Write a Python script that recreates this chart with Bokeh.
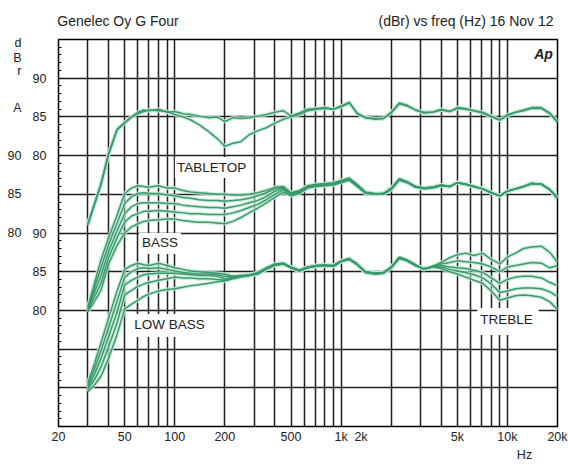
from bokeh.plotting import figure
from bokeh.models import FixedTicker, LinearAxis, LogAxis, Label, Range1d
from bokeh.embed import file_html
from bokeh.resources import INLINE

# ---------------- data ----------------
freq = [30, 33, 36, 40, 45, 50, 55, 60, 65, 70, 80, 90, 100, 112, 125, 140, 160, 180, 200,
        224, 250, 280, 315, 355, 400, 450, 500, 560, 630, 710, 800, 900, 1000, 1120, 1250,
        1400, 1600, 1800, 2000, 2240, 2500, 2800, 3150, 3550, 4000, 4500, 5000, 5600, 6300,
        7100, 8000, 9000, 10000, 11200, 12500, 14000, 16000, 18000, 20000]

tabletop_1 = [71.2, 73.9, 76.4, 80.3, 83.4, 84.3, 85.0, 85.6, 85.9, 85.8, 86.0, 85.6, 85.7, 85.4, 85.3,
              85.1, 84.9, 85.0, 84.4, 84.9, 84.8, 84.9, 85.1, 85.3, 85.6, 85.8, 85.1, 85.5, 86.0, 86.1,
              86.2, 86.0, 86.4, 86.9, 85.4, 84.9, 84.8, 84.8, 85.6, 86.8, 86.5, 85.9, 85.6, 85.6, 86.0,
              85.7, 86.2, 86.1, 85.8, 85.6, 85.1, 84.6, 85.3, 85.6, 85.9, 86.2, 86.2, 85.5, 84.4]
tabletop_2 = [71.0, 73.7, 76.2, 80.1, 83.3, 84.2, 85.0, 85.4, 85.7, 85.9, 85.8, 85.7, 85.3, 85.0, 84.6,
              84.0, 83.1, 82.2, 81.2, 81.6, 81.8, 82.7, 83.2, 83.6, 84.2, 84.7, 85.0, 85.3, 85.8, 86.0,
              86.1, 86.0, 86.3, 86.8, 85.5, 84.9, 84.7, 84.8, 85.5, 86.7, 86.4, 85.9, 85.5, 85.6, 85.9,
              85.7, 86.1, 86.0, 85.8, 85.5, 85.0, 84.6, 85.2, 85.6, 85.8, 86.1, 86.1, 85.4, 84.3]

bass_1 = [70.4, 73.6, 76.5, 79.4, 82.3, 85.1, 85.8, 86.1, 86.0, 85.9, 86.1, 85.8, 85.8, 85.5, 85.3,
          85.2, 85.1, 85.0, 85.0, 84.9, 84.9, 85.0, 85.2, 85.5, 85.9, 86.0, 85.2, 85.5, 86.1, 86.3,
          86.4, 86.5, 86.8, 87.1, 86.3, 85.3, 85.1, 85.1, 85.8, 87.0, 86.6, 86.0, 85.8, 85.9, 86.2,
          86.0, 86.5, 86.3, 86.0, 85.7, 85.2, 84.8, 85.4, 85.7, 86.0, 86.4, 86.3, 85.6, 84.5]
bass_2 = [70.2, 73.0, 75.5, 78.5, 81.3, 83.8, 84.7, 85.1, 85.2, 85.1, 85.1, 84.9, 84.8, 84.6, 84.5,
          84.3, 84.2, 84.2, 84.1, 84.2, 84.3, 84.5, 84.8, 85.2, 85.7, 85.9, 85.1, 85.4, 86.0, 86.2,
          86.3, 86.4, 86.7, 87.0, 86.2, 85.2, 85.0, 85.1, 85.7, 87.0, 86.6, 86.0, 85.8, 85.9, 86.2,
          86.0, 86.5, 86.3, 86.0, 85.7, 85.2, 84.8, 85.4, 85.7, 86.0, 86.4, 86.3, 85.6, 84.5]
bass_3 = [70.1, 72.4, 74.5, 77.6, 80.3, 82.5, 83.4, 83.8, 83.9, 83.9, 83.9, 83.8, 83.8, 83.6, 83.5,
          83.4, 83.3, 83.3, 83.2, 83.4, 83.6, 83.9, 84.2, 84.7, 85.4, 85.8, 85.0, 85.3, 86.0, 86.2,
          86.3, 86.4, 86.7, 87.0, 86.2, 85.2, 85.0, 85.1, 85.7, 86.9, 86.6, 86.0, 85.8, 85.9, 86.2,
          86.0, 86.5, 86.3, 86.0, 85.7, 85.2, 84.8, 85.4, 85.7, 86.0, 86.4, 86.3, 85.6, 84.5]
bass_4 = [70.0, 71.8, 73.5, 76.8, 79.4, 81.4, 82.2, 82.5, 82.8, 82.8, 82.9, 82.8, 82.7, 82.6, 82.5,
          82.5, 82.4, 82.4, 82.4, 82.6, 82.9, 83.3, 83.7, 84.3, 85.0, 85.6, 84.9, 85.2, 85.9, 86.1,
          86.2, 86.3, 86.6, 86.9, 86.1, 85.2, 85.0, 85.1, 85.7, 86.9, 86.5, 86.0, 85.8, 85.9, 86.1,
          86.0, 86.5, 86.3, 86.0, 85.7, 85.2, 84.8, 85.4, 85.7, 86.0, 86.4, 86.3, 85.6, 84.5]
bass_5 = [69.8, 71.2, 72.6, 76.0, 78.4, 80.0, 80.8, 81.2, 81.5, 81.6, 81.7, 81.8, 81.8, 81.6, 81.5,
          81.4, 81.4, 81.3, 81.2, 81.5, 82.0, 82.6, 83.2, 83.9, 84.6, 85.3, 84.8, 85.1, 85.8, 86.0,
          86.1, 86.2, 86.5, 86.8, 86.0, 85.1, 85.0, 85.0, 85.6, 86.8, 86.5, 85.9, 85.7, 85.8, 86.1,
          86.0, 86.5, 86.3, 86.0, 85.7, 85.2, 84.8, 85.4, 85.7, 86.0, 86.4, 86.3, 85.6, 84.5]

low_treble_1 = [70.6, 73.2, 75.8, 79.0, 82.5, 85.3, 85.8, 86.1, 85.9, 85.8, 86.1, 85.8, 85.5, 85.3, 85.1,
                85.0, 84.9, 84.8, 84.7, 84.4, 84.5, 84.5, 84.8, 85.5, 86.0, 86.1, 85.6, 85.2, 85.6, 85.8,
                85.8, 85.8, 86.4, 86.7, 86.0, 85.0, 84.8, 84.9, 85.6, 86.9, 86.5, 85.9, 85.3, 85.7, 86.2,
                86.8, 87.2, 87.4, 87.1, 87.4, 86.6, 86.0, 86.9, 87.4, 88.0, 88.2, 88.3, 87.5, 86.2]
low_treble_2 = [70.3, 72.5, 74.8, 77.8, 81.2, 84.3, 85.0, 85.4, 85.5, 85.4, 85.5, 85.3, 85.1, 84.9, 84.8,
                84.7, 84.7, 84.6, 84.4, 84.4, 84.5, 84.6, 84.9, 85.5, 86.0, 86.1, 85.6, 85.2, 85.6, 85.8,
                85.9, 85.8, 86.4, 86.7, 86.0, 85.0, 84.8, 84.9, 85.6, 86.8, 86.5, 85.9, 85.3, 85.7, 86.0,
                86.2, 86.4, 86.3, 86.2, 86.0, 85.6, 85.0, 85.6, 85.8, 86.0, 86.2, 86.1, 85.5, 85.8]
low_treble_3 = [70.0, 71.8, 73.8, 76.6, 79.8, 83.3, 83.9, 84.3, 84.6, 84.7, 84.8, 84.8, 84.8, 84.7, 84.6,
                84.5, 84.5, 84.4, 84.1, 84.3, 84.4, 84.5, 84.8, 85.4, 85.9, 86.0, 85.5, 85.1, 85.5, 85.8,
                85.8, 85.7, 86.3, 86.6, 85.9, 85.0, 84.8, 84.9, 85.5, 86.8, 86.4, 85.8, 85.4, 85.6, 85.8,
                85.6, 85.5, 85.4, 85.2, 84.9, 84.2, 83.5, 84.0, 84.3, 84.4, 84.4, 84.2, 83.6, 83.2]
low_treble_4 = [69.8, 71.1, 72.7, 75.3, 78.4, 82.0, 82.6, 83.1, 83.4, 83.6, 83.9, 84.1, 84.3, 84.2, 84.2,
                84.1, 84.1, 84.0, 83.9, 84.2, 84.4, 84.5, 84.7, 85.4, 85.9, 86.0, 85.5, 85.1, 85.5, 85.7,
                85.8, 85.7, 86.3, 86.6, 85.9, 84.9, 84.7, 84.8, 85.5, 86.8, 86.4, 85.8, 85.4, 85.6, 85.6,
                85.3, 85.1, 84.9, 84.6, 84.2, 83.4, 82.3, 82.5, 82.8, 82.9, 82.9, 82.8, 82.4, 81.8]
low_treble_5 = [69.5, 70.4, 71.5, 73.8, 76.9, 80.2, 80.8, 81.3, 81.8, 82.1, 82.5, 82.7, 82.8, 83.0, 83.2,
                83.3, 83.5, 83.7, 83.8, 84.1, 84.3, 84.5, 84.7, 85.3, 85.8, 86.0, 85.5, 85.1, 85.5, 85.7,
                85.8, 85.7, 86.3, 86.6, 85.9, 84.9, 84.7, 84.8, 85.5, 86.7, 86.4, 85.8, 85.3, 85.6, 85.4,
                85.0, 84.7, 84.3, 83.9, 83.5, 82.5, 81.3, 81.6, 81.9, 82.0, 81.9, 81.7, 81.1, 80.1]

groups = [
    ("TABLETOP", 0, [tabletop_1, tabletop_2]),
    ("BASS", 10, [bass_1, bass_2, bass_3, bass_4, bass_5]),
    ("LOW BASS / TREBLE", 20, [low_treble_1, low_treble_2, low_treble_3, low_treble_4, low_treble_5]),
]

y_tick_labels = [90, 85, 80]
x_label_ticks = [20, 50, 100, 200, 500, 1000, 5000, 10000, 20000]
x_label_text = ["20", "50", "100", "200", "500", "1k", "5k", "10k", "20k"]
x_grid_ticks = [30, 40, 50, 60, 70, 80, 90, 100, 200, 300, 400, 500, 600, 700, 800, 900,
                1000, 2000, 3000, 4000, 5000, 6000, 7000, 8000, 9000, 10000]

title_left = "Genelec Oy G Four"
title_right = "(dBr) vs freq (Hz) 16 Nov 12"
y_unit_letters = ["d", "B", "r"]
channel = "A"
x_unit = "Hz"

# ---------------- styling ----------------
FONT = "Liberation Sans"
TXT = "#222222"
GREEN = "#3a9a6c"
HALO = "#c3ead6"
GRID = "#1e1e1e"

p = figure(width=568, height=465, x_axis_type="log",
           x_range=Range1d(20, 20000), y_range=Range1d(45, 95),
           output_backend="svg", toolbar_location=None,
           min_border_left=58, min_border_right=11, min_border_top=39, min_border_bottom=39,
           background_fill_color="white", border_fill_color="white",
           outline_line_color="black", outline_line_width=1.5)

p.xgrid.ticker = FixedTicker(ticks=x_grid_ticks)
p.ygrid.ticker = FixedTicker(ticks=list(range(50, 95, 5)))
for g in (p.xgrid, p.ygrid):
    g.grid_line_color = GRID
    g.grid_line_width = 1.5
    g.grid_line_alpha = 1.0


def plain(ax, size="12.5px", standoff=5):
    ax.major_tick_in = 0
    ax.major_tick_out = 0
    ax.minor_tick_in = 0
    ax.minor_tick_out = 0
    ax.axis_line_color = None
    ax.major_label_standoff = standoff
    ax.major_label_text_font = FONT
    ax.major_label_text_font_size = size
    ax.major_label_text_color = TXT


# bottom frequency axis ("2k" printed just right of "1k", as in the original)
xa = p.xaxis[0]
POS_2K = 1317
xa.ticker = FixedTicker(ticks=x_label_ticks + [POS_2K])
over = {t: s for t, s in zip(x_label_ticks, x_label_text)}
over[POS_2K] = "2k"
xa.major_label_overrides = over
plain(xa, standoff=3)

# unit "Hz" on a second row below
hz_axis = LogAxis(ticker=FixedTicker(ticks=[12667]), major_label_overrides={12667: x_unit})
plain(hz_axis, standoff=1)
p.add_layout(hz_axis, "below")

# header line above the frame
POS_TL, POS_TR = 45.59, 5636
head = LogAxis(ticker=FixedTicker(ticks=[POS_TL, POS_TR]),
               major_label_overrides={POS_TL: title_left, POS_TR: title_right})
plain(head, size="14px", standoff=11)
p.add_layout(head, "above")

# inner y axis: TABLETOP scale (offset 0) and LOW BASS scale (offset 20)
inner_ticks = [v - 0 for v in y_tick_labels] + [v - 20 for v in y_tick_labels]
inner_over = {v - 0: str(v) for v in y_tick_labels}
inner_over.update({v - 20: str(v) for v in y_tick_labels})
ya = p.yaxis[0]
ya.ticker = FixedTicker(ticks=inner_ticks, minor_ticks=list(range(45, 96)))
ya.major_label_overrides = inner_over
plain(ya, standoff=12)
ya.minor_tick_in = 3
ya.minor_tick_line_color = "black"

# outer y axis: BASS scale (offset 10) plus "d B r" and channel "A"
POS_LETTERS = [94.61, 92.55, 90.87]
POS_CH = 86.09
outer_ticks = [v - 10 for v in y_tick_labels] + POS_LETTERS + [POS_CH]
outer_over = {v - 10: str(v) for v in y_tick_labels}
outer_over.update({pos: t for pos, t in zip(POS_LETTERS, y_unit_letters)})
outer_over[POS_CH] = channel
outer = LinearAxis(ticker=FixedTicker(ticks=outer_ticks), major_label_overrides=outer_over)
plain(outer, standoff=8)
p.add_layout(outer, "left")

for name, off, curves in groups:
    for c in curves:
        p.line(freq, [v - off for v in c], line_color=HALO, line_width=4.0, line_alpha=0.8)
for name, off, curves in groups:
    for c in curves:
        p.line(freq, [v - off for v in c], line_color=GREEN, line_width=1.5)


def lab(x, y, text, size="13.5px", bg=None, pad=None, style="normal"):
    kw = dict(x=x, y=y, text=text, text_font=FONT, text_font_size=size, text_color=TXT,
              text_align="center", text_baseline="middle", text_font_style=style)
    if bg:
        kw["background_fill_color"] = bg
    if pad is not None:
        kw["padding"] = pad
    p.add_layout(Label(**kw))


lab(172.2, 78.46, "TABLETOP", bg="white", pad=dict(left=2, right=7, top=3, bottom=3))
lab(81.5, 68.64, "BASS", bg="white", pad=dict(left=3, right=3, top=2, bottom=4))
lab(93.0, 58.05, "LOW BASS", bg="white", pad=dict(left=3, right=3, top=3, bottom=5))
lab(10085, 58.57, "TREBLE", bg="white", pad=dict(left=3, right=6, top=4, bottom=8))
lab(16480, 93.19, "Ap", size="14px", style="bold italic")

open("out.html", "w").write(file_html(p, INLINE))
